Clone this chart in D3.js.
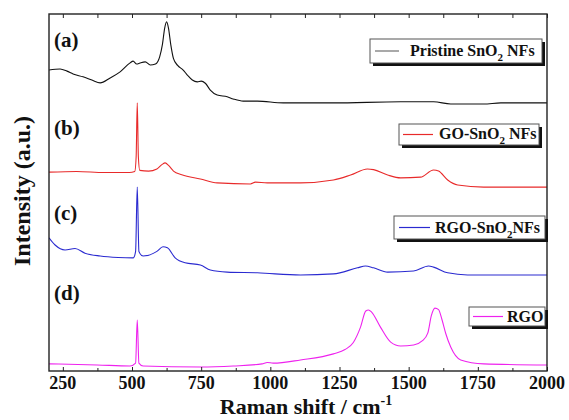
<!DOCTYPE html>
<html>
<head>
<meta charset="utf-8">
<script src="https://cdn.jsdelivr.net/npm/d3@7"></script>
<style>
  body { margin: 0; background: #fff; }
</style>
</head>
<body>
<svg id="chart" width="569" height="420"></svg>
<script>
"use strict";

// Raman shift (cm-1) vs intensity (a.u., curves stacked with offsets)
let pristine = [[200,84.3],[240,84.6],[265,84.0],[287,83.2],[323,82.4],[355,81.5],[385,80.7],[421,82.1],[457,83.8],
  [493,86.3],[504,86.8],[517,86.0],[529,86.3],[548,86.6],[566,85.7],[585,86.0],[600,88.0],[610,91.5],[618,96.0],
  [625,97.8],[632,96.0],[640,91.5],[650,87.5],[665,85.6],[685,84.3],[700,82.9],[718,81.5],[736,81.0],[750,81.2],
  [765,80.6],[783,78.7],[808,77.3],[844,76.8],[866,76.2],[902,75.6],[953,75.6],[1047,75.1],[1228,75.1],[1471,75.4],
  [1590,75.4],[1652,74.8],[1771,74.8],[1833,75.1],[2000,75.1]];

let goSnO2 = [[200,55.7],[300,55.9],[400,55.6],[490,55.6],[510,55.9],[515,60],[519,75.1],[523,60],[528,56.2],
  [560,56.0],[590,56.6],[608,57.8],[620,58.3],[632,57.6],[650,56.0],[680,55.0],[747,53.8],[808,52.7],[928,52.4],
  [946,52.9],[989,52.7],[1109,52.7],[1228,53.5],[1290,54.9],[1351,56.6],[1373,56.4],[1424,54.9],[1471,54.1],
  [1543,54.3],[1590,56.3],[1608,56.0],[1641,53.5],[1677,52.1],[1771,51.5],[2000,51.5]];

let rgoSnO2 = [[200,37.3],[222,35.3],[258,33.9],[294,34.3],[330,33.0],[385,32.2],[450,31.8],[505,31.7],[513,33.5],
  [519,51.5],[525,33.5],[540,32.2],[590,33.5],[612,34.8],[628,34.5],[656,31.7],[692,30.3],[747,29.7],[783,28.3],
  [844,27.7],[953,27.5],[1109,26.9],[1228,27.2],[1315,28.9],[1344,29.4],[1373,28.9],[1424,27.7],[1518,28.0],
  [1572,29.4],[1590,29.1],[1641,27.5],[1713,26.9],[2000,26.9]];

let rgo = [[200,2.0],[374,1.7],[493,1.4],[513,2.2],[519,14.3],[525,2.2],[540,1.4],[747,1.1],[866,1.4],[970,2.0],
  [989,2.4],[1010,2.2],[1109,3.1],[1228,4.8],[1270,6.0],[1300,8.0],[1326,12.3],[1345,16.8],[1355,17.1],[1366,16.5],
  [1398,12.3],[1435,8.1],[1471,7.0],[1518,7.3],[1550,8.5],[1569,10.6],[1582,15.5],[1595,17.6],[1608,17.2],
  [1620,14.5],[1634,10.5],[1652,6.7],[1688,3.1],[1771,2.0],[2000,1.7]];

let seriesData = [pristine, goSnO2, rgoSnO2, rgo];
let seriesColors = ["#111111", "#e82a2a", "#2a2ad0", "#ee22ee"];
let panelLabels = ["(a)", "(b)", "(c)", "(d)"];
// legend text: [before subscript, subscript, after]
let legendLabels = [["Pristine SnO", "2", " NFs"], ["GO-SnO", "2", " NFs"], ["RGO-SnO", "2", "NFs"], ["RGO", "", ""]];
let xMajorTicks = [250, 500, 750, 1000, 1250, 1500, 1750, 2000];
let xMinorTicks = [375, 625, 875, 1125, 1375, 1625, 1875];
let xDomain = [200, 2000];
let yDomain = [0, 100];

let serif = "'Liberation Serif', 'Times New Roman', 'DejaVu Serif', serif";
let width = 569;
let height = 420;
let margin = {top: 14, right: 22, bottom: 49, left: 49};

let svg = d3.select("#chart");
let x = d3.scaleLinear().domain(xDomain).range([margin.left, width - margin.right]);
let y = d3.scaleLinear().domain(yDomain).range([height - margin.bottom, margin.top]);

svg.append("defs").append("clipPath")
   .attr("id", "plot-clip")
   .append("rect")
   .attr("x", margin.left).attr("y", margin.top)
   .attr("width", width - margin.left - margin.right)
   .attr("height", height - margin.top - margin.bottom);

let line = d3.line()
             .x((d)=>{return x(d[0]);})
             .y((d)=>{return y(d[1]);})
             .curve(d3.curveMonotoneX);

svg.append("g")
   .attr("clip-path", "url(#plot-clip)")
   .selectAll("path")
   .data(seriesData)
   .join("path")
   .attr("fill", "none")
   .attr("stroke", (d, i)=>{return seriesColors[i];})
   .attr("stroke-width", 1.1)
   .attr("d", line);

// axes: ticks point inward, labels only at the bottom
let bottomY = height - margin.bottom;
let bottomAxis = svg.append("g")
   .attr("transform", "translate(0," + bottomY + ")")
   .call(d3.axisTop(x).tickValues(xMajorTicks).tickSize(4).tickFormat(""));
bottomAxis.append("g")
   .call(d3.axisTop(x).tickValues(xMinorTicks).tickSize(3).tickFormat(""));

svg.append("g")
   .attr("transform", "translate(0," + margin.top + ")")
   .call(d3.axisBottom(x).tickValues(xMajorTicks.concat(xMinorTicks)).tickSize(4).tickFormat(""));

svg.selectAll(".domain").remove();
svg.selectAll(".tick line").attr("stroke", "#222").attr("stroke-width", 1);

svg.append("g")
   .selectAll("text")
   .data(xMajorTicks)
   .join("text")
   .attr("x", (d)=>{return x(d);})
   .attr("y", 389)
   .attr("text-anchor", "middle")
   .attr("font-family", serif)
   .attr("font-weight", "bold")
   .attr("font-size", 18)
   .attr("fill", "#111")
   .text((d)=>{return d;});

svg.append("rect")
   .attr("x", margin.left).attr("y", margin.top)
   .attr("width", width - margin.left - margin.right)
   .attr("height", height - margin.top - margin.bottom)
   .attr("fill", "none")
   .attr("stroke", "#222")
   .attr("stroke-width", 1.4);

let xTitle = svg.append("text")
   .attr("x", 306).attr("y", 414)
   .attr("text-anchor", "middle")
   .attr("font-family", serif)
   .attr("font-weight", "bold")
   .attr("font-size", 22)
   .attr("fill", "#111");
xTitle.append("tspan").text("Raman shift / cm");
xTitle.append("tspan").attr("font-size", 14).attr("dy", -9).text("-1");

svg.append("text")
   .attr("transform", "translate(30,191) rotate(-90)")
   .attr("text-anchor", "middle")
   .attr("font-family", serif)
   .attr("font-weight", "bold")
   .attr("font-size", 24)
   .attr("fill", "#111")
   .text("Intensity (a.u.)");

let panelY = [47, 135, 220, 300];
svg.append("g")
   .selectAll("text")
   .data(panelLabels)
   .join("text")
   .attr("x", 54)
   .attr("y", (d, i)=>{return panelY[i];})
   .attr("font-family", serif)
   .attr("font-weight", "bold")
   .attr("font-size", 21)
   .attr("fill", "#111")
   .text((d)=>{return d;});

// legend boxes, one per curve
let legendBoxes = [
  {x: 370, y: 39, w: 172, h: 24, lineX: 375, lineW: 24, textX: 410, base: 56},
  {x: 399, y: 124, w: 140, h: 21, lineX: 403, lineW: 30, textX: 439, base: 139},
  {x: 394, y: 216, w: 151, h: 23, lineX: 399, lineW: 31, textX: 435, base: 233},
  {x: 469, y: 307, w: 76, h: 19, lineX: 473, lineW: 30, textX: 507, base: 322}
];

legendBoxes.forEach((b, i)=>
{
  let g = svg.append("g");
  g.append("rect")
   .attr("x", b.x + 3).attr("y", b.y + 3)
   .attr("width", b.w).attr("height", b.h)
   .attr("fill", "#111");
  g.append("rect")
   .attr("x", b.x).attr("y", b.y)
   .attr("width", b.w).attr("height", b.h)
   .attr("fill", "#fff")
   .attr("stroke", "#555")
   .attr("stroke-width", 1);
  let ly = b.y + b.h / 2;
  g.append("line")
   .attr("x1", b.lineX).attr("x2", b.lineX + b.lineW)
   .attr("y1", ly).attr("y2", ly)
   .attr("stroke", seriesColors[i])
   .attr("stroke-opacity", i == 0 ? 0.6 : 1)
   .attr("stroke-width", 1.2);
  let parts = legendLabels[i];
  let t = g.append("text")
   .attr("x", b.textX).attr("y", b.base)
   .attr("font-family", serif)
   .attr("font-weight", "bold")
   .attr("font-size", 16)
   .attr("fill", "#111");
  t.append("tspan").text(parts[0]);
  if (parts[1])
  {
    t.append("tspan").attr("font-size", 11).attr("dy", 5).text(parts[1]);
    t.append("tspan").attr("dy", -5).text(parts[2]);
  }
});
</script>
</body>
</html>
